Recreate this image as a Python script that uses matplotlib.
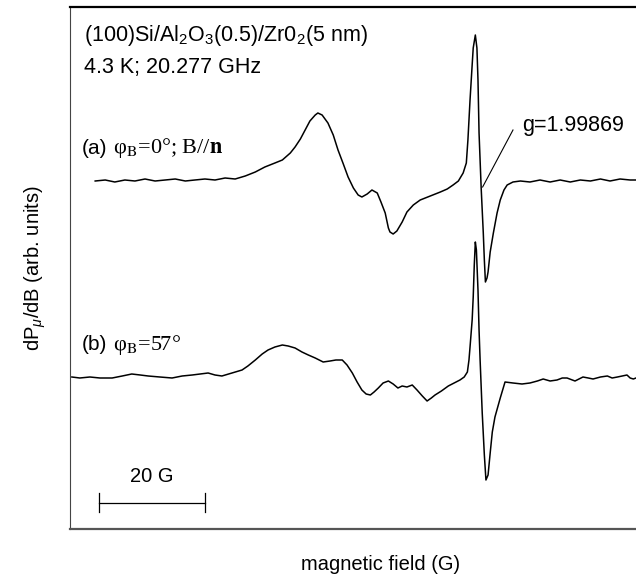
import numpy as np
import matplotlib
matplotlib.use("Agg")
import matplotlib.pyplot as plt

plt.rcParams['font.family'] = ['Liberation Sans', 'DejaVu Sans']
plt.rcParams['mathtext.fontset'] = 'custom'
plt.rcParams['mathtext.rm'] = 'Liberation Sans'
plt.rcParams['mathtext.it'] = 'Liberation Sans:italic'
plt.rcParams['mathtext.bf'] = 'Liberation Sans:bold'

# measurement conditions
freq_ghz = 20.277
g_value = 1.99869
scale_bar_g = 20.0

# trace (a): phi_B = 0 deg, field in G, signal in arb. units
field_a = [7175.6, 7177.5, 7179.3, 7181.2, 7183.1, 7185.0, 7186.9, 7188.8, 7190.7, 7192.6,
           7194.4, 7196.3, 7198.2, 7200.1, 7202.0, 7203.9, 7205.8, 7207.6, 7209.5, 7210.9,
           7212.4, 7213.3, 7214.3, 7215.2, 7216.1, 7217.1, 7217.6, 7218.4, 7219.5, 7220.5,
           7221.4, 7222.4, 7223.3, 7224.3, 7225.2, 7225.9, 7226.9, 7227.8, 7228.8, 7229.5,
           7230.3, 7230.9, 7231.2, 7231.8, 7232.5, 7233.5, 7234.4, 7235.6, 7236.9, 7238.8,
           7240.7, 7242.0, 7243.1, 7244.1, 7245.0, 7245.6, 7245.9, 7246.3, 7246.7, 7246.9,
           7247.3, 7247.6, 7247.8, 7248.0, 7248.4, 7248.8, 7249.0, 7249.2, 7249.5, 7249.7,
           7250.1, 7250.7, 7251.4, 7252.0, 7252.7, 7253.3, 7254.4, 7255.8, 7257.6, 7259.5,
           7261.4, 7263.3, 7265.2, 7267.1, 7269.0, 7270.9, 7272.7, 7274.6, 7276.5, 7277.6]
signal_a = [0.0, 0.1, -0.1, 0.1, 0.0, 0.2, 0.0, 0.1, 0.2, 0.0,
            0.1, 0.2, 0.1, 0.3, 0.2, 0.5, 0.9, 1.4, 1.8, 2.1,
            2.8, 3.4, 4.2, 5.1, 6.0, 6.6, 6.8, 6.6, 5.8, 4.6,
            3.1, 1.7, 0.4, -0.7, -1.4, -1.6, -1.3, -0.9, -1.2, -2.1,
            -3.2, -4.7, -5.1, -5.3, -5.0, -4.1, -3.1, -2.4, -1.9, -1.5,
            -1.1, -0.8, -0.4, 0.0, 0.8, 1.8, 4.1, 8.1, 11.6, 13.3,
            14.6, 13.3, 10.1, 4.8, -0.7, -5.2, -7.9, -10.1, -9.7, -9.1,
            -7.1, -5.2, -3.2, -1.9, -0.9, -0.4, -0.1, 0.0, -0.1, 0.1,
            -0.1, 0.1, -0.1, 0.1, 0.0, 0.2, 0.0, 0.2, 0.1, 0.1]

# trace (b): phi_B = 57 deg
field_b = [7171.2, 7172.7, 7174.6, 7176.5, 7178.8, 7180.7, 7182.5, 7184.1, 7185.6, 7187.8,
           7190.1, 7192.0, 7193.9, 7195.4, 7196.9, 7198.2, 7199.5, 7201.4, 7203.3, 7204.4,
           7205.8, 7207.1, 7208.2, 7209.5, 7210.9, 7212.0, 7213.3, 7214.6, 7215.8, 7217.1,
           7218.6, 7219.9, 7221.0, 7222.2, 7223.1, 7224.1, 7225.0, 7225.9, 7226.7, 7227.5,
           7228.2, 7229.0, 7229.9, 7230.9, 7231.8, 7232.7, 7233.5, 7234.4, 7235.4, 7236.3,
           7237.3, 7238.2, 7239.0, 7239.7, 7240.9, 7242.2, 7243.3, 7244.4, 7245.2, 7245.8,
           7246.1, 7246.3, 7246.7, 7246.9, 7247.1, 7247.3, 7247.5, 7247.8, 7248.0, 7248.2,
           7248.6, 7249.0, 7249.3, 7249.7, 7250.1, 7250.5, 7251.0, 7252.0, 7252.9, 7254.4,
           7256.1, 7257.6, 7259.0, 7260.1, 7261.4, 7262.7, 7263.7, 7264.6, 7266.1, 7267.6,
           7268.6, 7269.5, 7270.9, 7272.2, 7273.1, 7274.1, 7275.0, 7275.9, 7276.5, 7277.1,
           7277.6]
signal_b = [0.0, -0.1, 0.0, -0.1, -0.1, 0.1, 0.3, 0.2, 0.1, 0.0,
            -0.1, 0.1, 0.2, 0.3, 0.4, 0.2, 0.1, 0.4, 0.7, 1.1,
            1.7, 2.3, 2.7, 3.0, 3.2, 3.1, 2.9, 2.5, 2.2, 1.9,
            1.5, 1.6, 1.7, 1.7, 1.2, 0.4, -0.5, -1.3, -1.7, -1.8,
            -1.5, -1.1, -0.6, -0.4, -0.7, -1.1, -0.9, -1.0, -0.8, -1.3,
            -1.9, -2.4, -2.1, -1.8, -1.4, -0.9, -0.6, -0.3, 0.0, 0.5,
            1.7, 3.0, 5.7, 8.0, 11.2, 13.5, 12.7, 8.7, 4.7, 1.7,
            -3.6, -7.8, -10.3, -9.8, -7.6, -5.5, -4.0, -2.1, -0.5, -0.6,
            -0.7, -0.6, -0.4, -0.2, -0.4, -0.3, -0.1, -0.1, -0.4, 0.0,
            -0.1, -0.2, 0.0, 0.1, -0.1, 0.0, 0.1, 0.2, -0.1, -0.2,
            -0.1]

offset_a = 34.8
offset_b = 15.2

# resonance field for the marked g value
h = 6.62607e-34
mu_b = 9.27401e-24
b_res = h * freq_ghz * 1e9 / (g_value * mu_b) * 1e4  # in G

W, H = 636, 585
fig = plt.figure(figsize=(W / 100, H / 100), dpi=100)
ax = fig.add_axes([70 / W, 1 - 529 / H, 575 / W, 522 / H])

ax.plot(field_a, np.array(signal_a) + offset_a, color='black', lw=1.1)
ax.plot(field_b, np.array(signal_b) + offset_b, color='black', lw=1.1)

ax.set_xlim(7170.85, 7279.3)
ax.set_ylim(0, 52.2)
ax.set_xticks([])
ax.set_yticks([])
ax.spines['right'].set_visible(False)
ax.spines['top'].set_linewidth(1.6)
ax.spines['bottom'].set_linewidth(1.6)
ax.spines['bottom'].set_color('#555555')
ax.spines['left'].set_linewidth(0.8)
ax.spines['left'].set_color('#444444')

# scale bar
sb_x0 = 7176.3
sb_y = 2.6
ax.plot([sb_x0, sb_x0 + scale_bar_g], [sb_y, sb_y], color='black', lw=0.9)
for xx in (sb_x0, sb_x0 + scale_bar_g):
    ax.plot([xx, xx], [1.7, 3.6], color='black', lw=0.9)
ax.text(sb_x0 + scale_bar_g / 2, 4.3, '%d G' % scale_bar_g, ha='center', va='bottom', fontsize=14.5)

# g marker
ax.plot([b_res + 0.2, 7254.4], [34.2, 39.9], color='black', lw=0.8)
ax.text(7256.1, 40.4, 'g=%.5f' % g_value, ha='left', va='center', fontsize=15.5)

# labels in the frame
fig.text(84 / W, 1 - 36 / H, r'(100)Si/Al$_\mathrm{2}$O$_\mathrm{3}$(0.5)/Zr0$_\mathrm{2}$(5 nm)',
         ha='left', va='center', fontsize=15.5)
fig.text(84 / W, 1 - 67 / H, '4.3 K; %.3f GHz' % freq_ghz, ha='left', va='center', fontsize=15.5)

fig.text(82 / W, 1 - 148 / H, '(a)', ha='left', va='center', fontsize=15)
fig.text(113 / W, 1 - 148 / H, r'φ$_\mathrm{B}$=0°; B//$\mathbf{n}$', ha='left', va='center',
         fontsize=16, family='Liberation Serif', math_fontfamily='stix')
fig.text(82 / W, 1 - 345 / H, '(b)', ha='left', va='center', fontsize=15)
fig.text(113 / W, 1 - 345 / H, r'φ$_\mathrm{B}$=57°', ha='left', va='center',
         fontsize=16, family='Liberation Serif', math_fontfamily='stix')

fig.text(35 / W, 1 - 268 / H, r'dP$_\mu$/dB (arb. units)', rotation=90,
         ha='center', va='center', fontsize=14.5)
fig.text(381 / W, 1 - 565 / H, 'magnetic field (G)', ha='center', va='center', fontsize=14.5)

fig.savefig('out.png', dpi=100)
